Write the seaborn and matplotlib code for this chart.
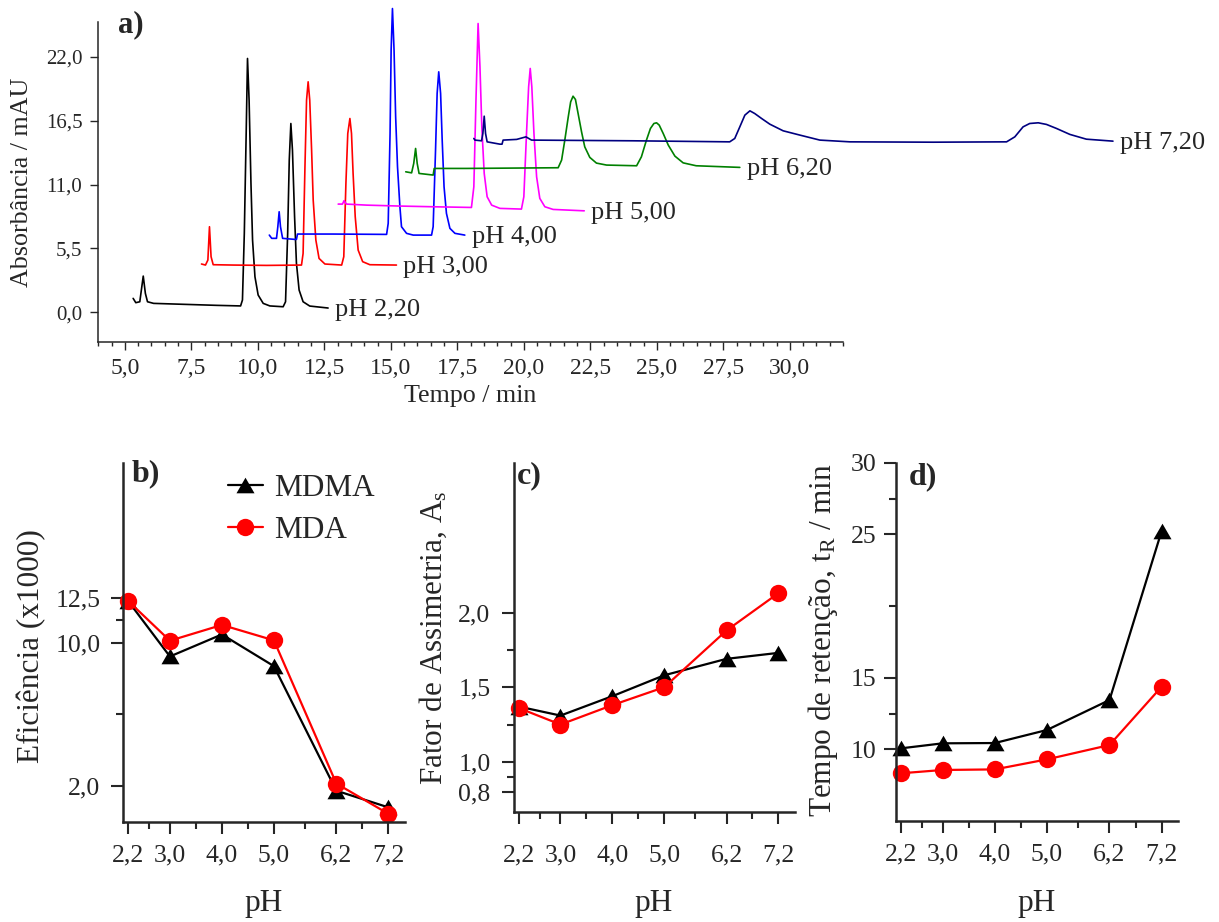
import matplotlib
matplotlib.use("Agg")
import matplotlib.pyplot as plt
import numpy as np
import pandas as pd
import seaborn as sns
from matplotlib.ticker import FixedLocator, MultipleLocator, FuncFormatter
from matplotlib.lines import Line2D

sns.set_style("ticks")
plt.rcParams["font.family"] = ["Liberation Serif", "DejaVu Serif"]
plt.rcParams["mathtext.fontset"] = "custom"
plt.rcParams["mathtext.rm"] = "Liberation Serif"
plt.rcParams["mathtext.it"] = "Liberation Serif:italic"
plt.rcParams["mathtext.bf"] = "Liberation Serif:bold"

# ---------------- chromatograms (panel a) ----------------
tempo_ph220 = [5.31, 5.41, 5.56, 5.69, 5.77, 5.85, 6.08, 7.19, 8.45, 9.35, 9.42, 9.49, 9.56, 9.61,
               9.67, 9.74, 9.80, 9.89, 10.01, 10.20, 10.45, 10.95, 11.04, 11.12, 11.18, 11.24,
               11.30, 11.38, 11.45, 11.55, 11.70, 11.95, 12.64]
abs_ph220 = [1.20, 0.83, 0.91, 3.12, 1.63, 0.91, 0.77, 0.69, 0.60, 0.55, 1.06, 6.80, 15.40, 21.86,
             18.27, 11.10, 6.22, 3.06, 1.49, 0.77, 0.55, 0.48, 0.91, 6.80, 13.11, 16.26,
             13.97, 8.23, 4.22, 1.92, 0.91, 0.54, 0.37]

tempo_ph300 = [7.88, 8.03, 8.12, 8.18, 8.24, 8.32, 9.07, 10.33, 11.64, 11.70, 11.77, 11.83, 11.89,
               11.95, 12.02, 12.08, 12.18, 12.30, 12.52, 13.15, 13.23, 13.31, 13.38, 13.46, 13.52,
               13.58, 13.66, 13.77, 13.94, 14.21, 15.21]
abs_ph300 = [4.16, 4.07, 4.50, 7.37, 4.79, 4.10, 4.07, 4.04, 4.07, 5.07, 12.53, 18.27, 19.85,
             18.27, 13.97, 9.66, 6.22, 4.64, 4.16, 4.07, 4.79, 11.10, 15.40, 16.69, 15.40,
             11.96, 8.23, 5.36, 4.36, 4.10, 4.07]

tempo_ph400 = [10.43, 10.52, 10.70, 10.75, 10.80, 10.85, 10.93, 11.39, 11.45, 11.49, 12.83, 14.84,
               14.90, 14.97, 15.01, 15.06, 15.12, 15.18, 15.25, 15.34, 15.40, 15.59, 15.84, 16.53,
               16.59, 16.68, 16.74, 16.80, 16.87, 16.93, 17.00, 17.09, 17.22, 17.41, 17.78]
abs_ph400 = [6.65, 6.37, 6.37, 7.37, 8.66, 7.37, 6.37, 6.28, 6.28, 6.74, 6.74, 6.71,
             7.66, 15.40, 22.57, 26.16, 22.57, 16.83, 12.53, 9.09, 7.37, 6.80, 6.65, 6.65,
             7.37, 13.97, 18.85, 20.71, 18.85, 14.83, 10.81, 8.52, 7.23, 6.80, 6.65]

tempo_ph500 = [13.02, 13.18, 13.24, 13.33, 14.09, 15.34, 16.59, 18.03, 18.12, 18.20, 18.28, 18.35,
               18.42, 18.51, 18.62, 18.79, 19.10, 19.91, 20.00, 20.10, 20.18, 20.24, 20.30, 20.38,
               20.48, 20.60, 20.79, 21.10, 22.27]
abs_ph500 = [9.32, 9.32, 9.61, 9.32, 9.23, 9.15, 9.09, 9.03, 10.81, 18.27, 24.87, 21.14,
             15.97, 11.96, 9.95, 9.23, 8.95, 8.89, 9.95, 15.40, 19.42, 21.00, 19.42, 15.40,
             11.67, 9.81, 9.09, 8.86, 8.74]

tempo_ph620 = [15.56, 15.78, 15.86, 15.93, 15.99, 16.06, 16.59, 16.63, 17.85, 21.29, 21.42, 21.54,
               21.67, 21.76, 21.85, 21.94, 22.04, 22.17, 22.29, 22.48, 22.73, 23.11, 24.24, 24.42,
               24.61, 24.76, 24.89, 24.99, 25.09, 25.24, 25.43, 25.68, 25.99, 26.48, 28.12]
abs_ph620 = [12.10, 12.01, 12.82, 14.11, 12.82, 11.96, 11.82, 12.39, 12.39, 12.45, 13.11, 14.83,
             16.83, 18.12, 18.61, 18.33, 17.12, 15.54, 14.25, 13.34, 12.85, 12.68, 12.62, 13.39,
             14.83, 15.83, 16.26, 16.32, 16.12, 15.40, 14.40, 13.45, 12.87, 12.62, 12.48]

tempo_ph720 = [18.12, 18.16, 18.41, 18.46, 18.51, 18.56, 18.62, 19.10, 19.18, 19.22, 19.73, 20.08,
               20.29, 24.11, 27.74, 27.93, 28.12, 28.31, 28.50, 28.68, 28.94, 29.25, 29.75, 30.38,
               31.13, 32.26, 35.39, 38.15, 38.46, 38.77, 39.02, 39.34, 39.65, 40.03, 40.53, 41.15,
               42.15]
abs_ph720 = [14.97, 14.83, 14.77, 15.40, 16.89, 15.40, 14.68, 14.48, 14.48, 14.83, 14.89, 15.11,
             14.83, 14.77, 14.68, 14.97, 15.97, 16.98, 17.35, 17.12, 16.69, 16.20, 15.63, 15.26,
             14.83, 14.68, 14.65, 14.68, 15.11, 15.97, 16.26, 16.32, 16.18, 15.83, 15.32, 14.91,
             14.74]

rotulos_ph = ["pH 2,20", "pH 3,00", "pH 4,00", "pH 5,00", "pH 6,20", "pH 7,20"]
cores_ph = ["#000000", "#ff0000", "#0000ff", "#ff00ff", "#008000", "#000080"]

# ---------------- parameters vs pH (panels b, c, d) ----------------
ph = [2.2, 3.0, 4.0, 5.0, 6.2, 7.2]
ph_rotulos = ["2,2", "3,0", "4,0", "5,0", "6,2", "7,2"]

eficiencia_mdma = [12.30, 9.22, 10.45, 8.68, 1.73, 0.80]
eficiencia_mda = [12.31, 10.10, 10.98, 10.12, 2.13, 0.44]

assimetria_mdma = [1.37, 1.31, 1.44, 1.58, 1.69, 1.73]
assimetria_mda = [1.36, 1.25, 1.38, 1.50, 1.88, 2.13]

retencao_mdma = [10.07, 10.42, 10.44, 11.35, 13.44, 25.23]
retencao_mda = [8.33, 8.56, 8.60, 9.30, 10.30, 14.37]

# ---------------- figure ----------------
W, H = 1219, 922
fig = plt.figure(figsize=(W / 100, H / 100), dpi=100)


def box(x0, x1, y0, y1):
    return [x0 / W, 1 - y1 / H, (x1 - x0) / W, (y1 - y0) / H]


def rotulo(x, y, texto, size, rot=0, **kw):
    fig.text(x / W, 1 - y / H, texto, fontsize=size, rotation=rot, ha="center", va="center", **kw)


virgula1 = FuncFormatter(lambda v, p: f"{v:.1f}".replace(".", ","))
virgula0 = FuncFormatter(lambda v, p: f"{v:.0f}")

# ---- panel a ----
ax_a = fig.add_axes(box(98.3, 843, 22, 341.7))
tempos = [tempo_ph220, tempo_ph300, tempo_ph400, tempo_ph500, tempo_ph620, tempo_ph720]
absorb = [abs_ph220, abs_ph300, abs_ph400, abs_ph500, abs_ph620, abs_ph720]
frames = []
for rot, t, a in zip(rotulos_ph, tempos, absorb):
    frames.append(pd.DataFrame({"tempo": t, "abs": a, "ph": rot}))
crom = pd.concat(frames, ignore_index=True)
sns.lineplot(data=crom, x="tempo", y="abs", hue="ph", palette=dict(zip(rotulos_ph, cores_ph)),
             estimator=None, sort=False, legend=False, lw=1.2, ax=ax_a)
for ln in ax_a.lines:
    ln.set_clip_on(False)
    ln.set_solid_joinstyle("round")
for rot, t, a, c in zip(rotulos_ph, tempos, absorb, cores_ph):
    ax_a.annotate(rot, (t[-1], a[-1]), xytext=(5, -1.5), textcoords="offset points",
                  ha="left", va="center", fontsize=19, annotation_clip=False)

ax_a.set_xlim(4.0, 32.0)
ax_a.set_ylim(-2.53, 25.0)
ax_a.xaxis.set_major_locator(MultipleLocator(2.5))
ax_a.xaxis.set_minor_locator(MultipleLocator(0.5))
ax_a.yaxis.set_major_locator(FixedLocator([0, 5.5, 11, 16.5, 22]))
ax_a.xaxis.set_major_formatter(virgula1)
ax_a.yaxis.set_major_formatter(virgula1)
ax_a.set_xticks([v for v in np.arange(5, 30.01, 2.5)])
ax_a.tick_params(axis="both", which="major", direction="out", length=5.5, width=1.0, pad=6)
ax_a.tick_params(axis="both", which="minor", direction="out", length=2.8, width=1.0)
ax_a.tick_params(axis="x", labelsize=17)
ax_a.tick_params(axis="y", labelsize=15)
for s in ["top", "right"]:
    ax_a.spines[s].set_visible(False)
for s in ["left", "bottom"]:
    ax_a.spines[s].set_linewidth(1.1)
ax_a.set_xlabel("")
ax_a.set_ylabel("")
rotulo(470.6, 396, "Tempo / min", 18.7)
rotulo(22, 182, "Absorbância / mAU", 18.7, rot=90)
fig.text(118 / W, 1 - 10 / H, "a)", fontsize=22, fontweight="bold", ha="left", va="top")

# ---- panels b, c, d ----
triangulo = [(-1.0, -0.866), (1.0, -0.866), (0.0, 0.866)]


def painel(rect, mdma, mda, ylim, major, minor, fmt, xpad, ypad, letra, letra_xy):
    ax = fig.add_axes(rect)
    sns.lineplot(x=ph, y=mdma, color="black", lw=1.6, marker=triangulo, markersize=13,
                 markeredgewidth=0, markerfacecolor="black", ax=ax)
    sns.lineplot(x=ph, y=mda, color="#ff0000", lw=1.6, marker="o", markersize=12.5,
                 markeredgewidth=0, markerfacecolor="#ff0000", ax=ax)
    for ln in ax.lines:
        ln.set_clip_on(False)
    ax.set_xlim(2.104, 7.52)
    ax.set_ylim(*ylim)
    ax.xaxis.set_major_locator(FixedLocator(ph))
    ax.xaxis.set_minor_locator(FixedLocator([2.6, 3.5, 4.5, 5.6, 6.7]))
    ax.set_xticklabels(ph_rotulos)
    ax.yaxis.set_major_locator(FixedLocator(major))
    ax.yaxis.set_minor_locator(FixedLocator(minor))
    ax.yaxis.set_major_formatter(fmt)
    ax.tick_params(axis="both", which="major", direction="out", length=8.4, width=1.5, labelsize=18.5)
    ax.tick_params(axis="both", which="minor", direction="out", length=4.8, width=1.5)
    ax.tick_params(axis="x", which="major", pad=xpad)
    ax.tick_params(axis="y", which="major", pad=ypad)
    for s in ["top", "right"]:
        ax.spines[s].set_visible(False)
    for s in ["left", "bottom"]:
        ax.spines[s].set_linewidth(1.8)
    ax.set_xlabel("")
    ax.set_ylabel("")
    fig.text(letra_xy[0] / W, 1 - letra_xy[1] / H, letra, fontsize=23, fontweight="bold",
             ha="left", va="top")
    return ax


ax_b = painel(box(123.3, 405, 463.3, 821.7), eficiencia_mdma, eficiencia_mda, (0, 20),
              [2.0, 10.0, 12.5], [6.0, 11.25], virgula1, 8.0, 8.0, "b)", (132, 459))
rotulo(32, 646, "Eficiência (x1000)", 22.5, rot=90)
rotulo(264, 903, "pH", 22.5)

ax_c = painel(box(514, 795, 463.3, 811.7), assimetria_mdma, assimetria_mda, (0.666, 3.0),
              [0.8, 1.0, 1.5, 2.0], [0.9, 1.25, 1.75], virgula1, 15.5, 8.5, "c)", (517, 461))
rotulo(433, 638, "Fator de Assimetria, A$_\\mathregular{s}$", 22.5, rot=90)
rotulo(654, 903, "pH", 22.5)

ax_d = painel(box(896, 1178.3, 462.7, 821), retencao_mdma, retencao_mda, (5, 30),
              [10, 15, 25, 30], [12.5, 20, 27.5], virgula0, 8.0, 5.5, "d)", (909, 462))
rotulo(823, 640, "Tempo de retenção, t$_\\mathregular{R}$ / min", 22.5, rot=90)
rotulo(1037, 903, "pH", 22.5)

# legend of panel b
alca_mdma = Line2D([], [], color="black", lw=1.6, marker=triangulo, markersize=13,
                   markeredgewidth=0)
alca_mda = Line2D([], [], color="#ff0000", lw=1.6, marker="o", markersize=12.5,
                  markeredgewidth=0)
ax_b.legend([alca_mdma, alca_mda], ["MDMA", "MDA"], loc="upper left",
            bbox_to_anchor=(0.37, 0.97), frameon=False, fontsize=22.5, handlelength=1.15,
            handletextpad=0.35, labelspacing=0.42, borderpad=0, borderaxespad=0)

fig.savefig("out.png", dpi=100)
